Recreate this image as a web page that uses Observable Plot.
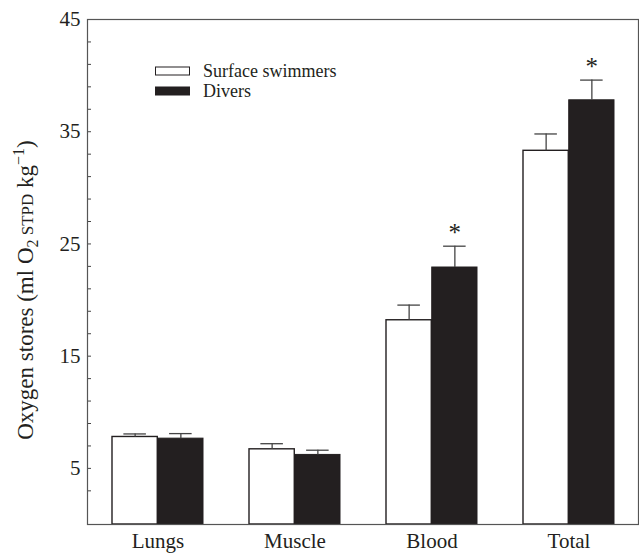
<!DOCTYPE html>
<html><head><meta charset="utf-8">
<script src="https://cdn.jsdelivr.net/npm/d3@7"></script>
<script src="https://cdn.jsdelivr.net/npm/@observablehq/plot@0.6"></script>
<style>body{margin:0;background:#fff}</style>
</head><body><div id="chart"></div>
<script>
const categories = ["Lungs", "Muscle", "Blood", "Total"];
const seriesNames = ["Surface swimmers", "Divers"];
const surfaceMeans = [7.8, 6.7, 18.2, 33.3];
const surfaceErrors = [0.27, 0.5, 1.35, 1.5];
const diverMeans = [7.65, 6.2, 22.9, 37.8];
const diverErrors = [0.45, 0.42, 1.9, 1.8];
const significant = [false, false, true, true];
const yTickLabels = [5, 15, 25, 35, 45];
const yTickMarks = d3.range(3, 46, 2);

const W = 639, H = 554, ML = 87, MR = 1, MT = 19, MB = 30;
const PAD = 0.336;
const step = (W - ML - MR) / categories.length;
const bw = step * (1 - PAD);
const ink = "#231f20";

const rows = categories.map((c, i) => ({
  cat: c,
  s: surfaceMeans[i], sTop: surfaceMeans[i] + surfaceErrors[i],
  d: diverMeans[i], dTop: diverMeans[i] + diverErrors[i],
  sig: significant[i]
}));

const chart = Plot.plot({
  width: W, height: H,
  marginLeft: ML, marginRight: MR, marginTop: MT, marginBottom: MB,
  style: {fontFamily: "'Liberation Serif', 'Times New Roman', serif", fontSize: "21px", color: ink, background: "#fff"},
  x: {type: "band", domain: categories, paddingInner: PAD, paddingOuter: PAD / 2, align: 0.5},
  y: {domain: [0, 45]},
  marks: [
    Plot.barY(rows, {x: "cat", y: "s", fill: "white", stroke: ink, strokeWidth: 1.4, insetRight: bw / 2}),
    Plot.barY(rows, {x: "cat", y: "d", fill: ink, stroke: ink, strokeWidth: 1, insetLeft: bw / 2}),
    Plot.ruleX(rows, {x: "cat", y1: "s", y2: "sTop", dx: -bw / 4, stroke: "#444", strokeWidth: 1.3}),
    Plot.ruleX(rows, {x: "cat", y1: "d", y2: "dTop", dx: bw / 4, stroke: "#444", strokeWidth: 1.3}),
    Plot.tickY(rows, {x: "cat", y: "sTop", dx: -bw / 4, inset: (bw - 23) / 2, stroke: "#444", strokeWidth: 1.3}),
    Plot.tickY(rows, {x: "cat", y: "dTop", dx: bw / 4, inset: (bw - 23) / 2, stroke: "#444", strokeWidth: 1.3}),
    Plot.text(rows.filter(r => r.sig), {x: "cat", y: "dTop", text: () => "*", dx: bw / 4, dy: -13, fontSize: 25, fill: ink}),
    Plot.tickY(yTickMarks, {y: d => d, insetRight: (W - ML - MR) - 4, stroke: "#444", strokeWidth: 1}),
    Plot.frame({stroke: "#555", strokeWidth: 1.2}),
    Plot.axisY({ticks: yTickLabels, tickSize: 0, tickPadding: 7, label: null, fontSize: 21}),
    Plot.axisX({tickSize: 0, tickPadding: 9, label: null, fontSize: 21})
  ]
});
document.getElementById("chart").appendChild(chart);

const svg = d3.select(chart);
// Y-axis title with subscript/superscript
const yl = svg.append("text")
  .attr("transform", `translate(33,290) rotate(-90)`)
  .attr("text-anchor", "middle")
  .attr("fill", ink)
  .style("font-family", "'Liberation Serif', serif")
  .style("font-size", "23px");
yl.append("tspan").text("Oxygen stores (ml O");
yl.append("tspan").attr("font-size", "16px").attr("dy", "5").text("2");
yl.append("tspan").attr("font-size", "17px").attr("dy", "-5").text(" STPD");
yl.append("tspan").text(" kg");
yl.append("tspan").attr("font-size", "16px").attr("dy", "-9").text("\u22121");
yl.append("tspan").attr("dy", "9").text(")");

// Legend inside plot
const lg = svg.append("g").attr("text-anchor", "start")
  .style("font-family", "'Liberation Serif', serif").style("font-size", "18px");
const legendFills = ["white", ink];
seriesNames.forEach((name, i) => {
  const y0 = 67 + i * 20;
  lg.append("rect").attr("x", 155.5).attr("y", y0).attr("width", 34).attr("height", 8)
    .attr("fill", legendFills[i]).attr("stroke", ink).attr("stroke-width", 1);
  lg.append("text").attr("x", 203).attr("y", y0 + 10).attr("fill", ink).text(name);
});
</script>
</body></html>
